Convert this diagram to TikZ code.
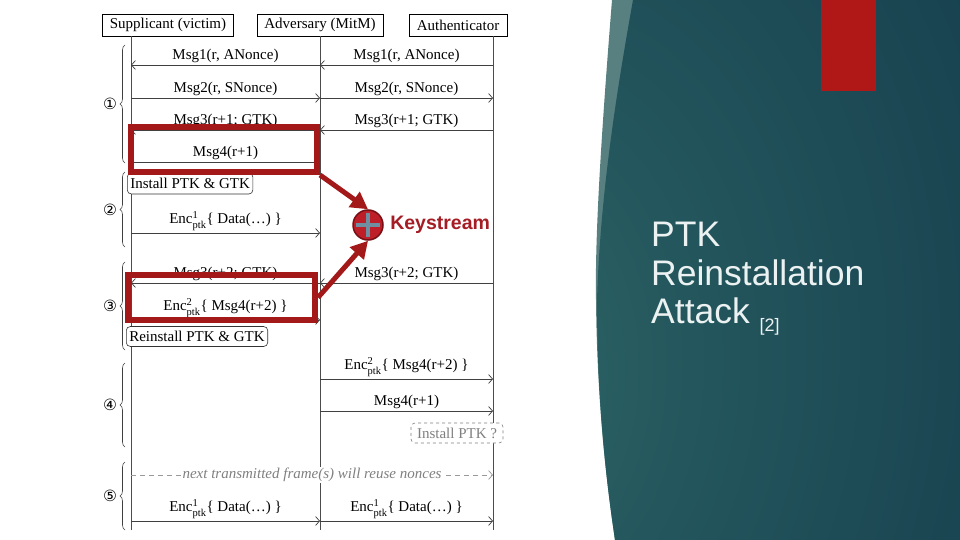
\documentclass[tikz,border=0pt]{standalone}
\usepackage{fontspec}
\usepackage{amsmath}
\setmainfont{Liberation Serif}
\newfontfamily\headfont{Liberation Sans}
\newfontfamily\circfont{DejaVu Sans}
\usetikzlibrary{arrows.meta,positioning,decorations.pathreplacing}

\definecolor{hlred}{RGB}{163,24,24}
\definecolor{ksred}{RGB}{165,28,36}
\definecolor{plusblue}{RGB}{112,142,162}
\definecolor{panelstrip}{RGB}{88,128,128}
\definecolor{slidered}{RGB}{176,24,24}
\definecolor{titlewhite}{RGB}{236,242,242}
\definecolor{glowA}{RGB}{47,104,103}
\definecolor{glowB}{RGB}{35,85,92}
\definecolor{glowC}{RGB}{24,66,80}
\definecolor{glowD}{RGB}{18,54,70}
\definecolor{glowE}{RGB}{16,50,66}
\pgfdeclareradialshading{panelglow}{\pgfpoint{-45bp}{-11bp}}{%
	color(0bp)=(glowA); color(25bp)=(glowB); color(55bp)=(glowC); color(85bp)=(glowD); color(100bp)=(glowE)}

\newcommand{\encptk}[1]{Enc$^{\text{#1}}_{\text{ptk}}$}

\begin{document}
\begin{tikzpicture}[x=1pt, y=-1pt,
	every node/.style={font=\fontsize{15}{18}\selectfont},
	hdr/.style={draw, fill=white, inner xsep=7.5pt, minimum height=22pt},
	life/.style={draw=black!70, line width=0.9pt},
	msg/.style={draw=black!75, line width=0.7pt, -{Straight Barb[length=4pt, width=9pt]}},
	lbl/.style={above=-1pt},
	act/.style={draw=black!80, fill=white, rounded corners=4pt, inner xsep=3pt, inner ysep=0pt, line width=0.6pt},
	brc/.style={draw=black!75, line width=0.6pt, decorate, decoration={brace, amplitude=5pt}},
	hl/.style={draw=hlred, line width=6pt, inner sep=0pt},
	hlarrow/.style={draw=hlred, line width=5pt, -{Triangle[length=17pt, width=18pt]}},
	plus/.style={draw=plusblue, line width=4pt}
]
	\fill[white] (0,0) rectangle (960,540);
	\useasboundingbox (0,0) rectangle (960,540);

	% right panel
	\fill[panelstrip] (612,0) .. controls (600,150) and (595,240) .. (596,300) .. controls (597,400) and (606,480) .. (615,540) -- (960,540) -- (960,0) -- cycle;
	\shade[shading=panelglow] (633,0) .. controls (615,100) and (600,200) .. (597,300) .. controls (597,400) and (606,480) .. (615,540) -- (960,540) -- (960,0) -- cycle;
	\fill[slidered] (821,0) rectangle (876,91);
	\node (title) [anchor=north west, inner sep=0pt, align=left, text=titlewhite, font=\headfont\fontsize{35.5}{38.5}\selectfont] at (651,222) {PTK\\Reinstallation\\Attack {\fontsize{18}{20}\selectfont\raisebox{-8pt}{[2]}}};

	% lifelines
	\foreach \row/\ypos in {m1/65, m2/98, m3/130, m4/162, d1/233, m5/283, e2/320, e3/379, m6/411, nx/475, d2/521, end/530} {
		\coordinate (s-\row) at (131,\ypos);
		\coordinate (a-\row) at (320,\ypos);
		\coordinate (t-\row) at (493,\ypos);
	}
	\node (supp) [hdr] at (168,25) {Supplicant (victim)};
	\node (adv) [hdr] at (320,25) {Adversary (MitM)};
	\node (auth) [hdr] at (458,25) {Authenticator};
	\draw[life] (supp.south -| s-end) -- (s-end);
	\draw[life] (adv.south) -- (a-end);
	\draw[life] (auth.south -| t-end) -- (t-end);

	% messages
	\foreach \from/\to/\msgtext in {%
			t-m1/a-m1/{Msg1(r, ANonce)}, a-m1/s-m1/{Msg1(r, ANonce)},
			s-m2/a-m2/{Msg2(r, SNonce)}, a-m2/t-m2/{Msg2(r, SNonce)},
			t-m3/a-m3/{Msg3(r+1; GTK)}, a-m3/s-m3/{Msg3(r+1; GTK)},
			s-m4/a-m4/{Msg4(r+1)},
			s-d1/a-d1/{\encptk{1}\{ Data(\dots) \}},
			t-m5/a-m5/{Msg3(r+2; GTK)}, a-m5/s-m5/{Msg3(r+2; GTK)},
			s-e2/a-e2/{\encptk{2}\{ Msg4(r+2) \}},
			a-e3/t-e3/{\encptk{2}\{ Msg4(r+2) \}},
			a-m6/t-m6/{Msg4(r+1)},
			s-d2/a-d2/{\encptk{1}\{ Data(\dots) \}}, a-d2/t-d2/{\encptk{1}\{ Data(\dots) \}}%
	}{%
		\draw[msg] (\from) -- (\to) node[midway, lbl] {\msgtext};
	}
	\draw[msg, draw=gray!80, dash pattern=on 5pt off 4pt] (s-nx) -- (t-nx) node[midway, fill=white, inner sep=1pt, text=gray, font=\fontsize{15}{18}\selectfont\itshape] {next transmitted frame(s) will reuse nonces};

	% key installs
	\node (inst) [act, anchor=west, minimum height=21pt] at (127,183.5) {Install PTK \& GTK};
	\node (reinst) [act, anchor=west, minimum height=20pt] at (126,336.5) {Reinstall PTK \& GTK};
	\node (instq) [act, draw=gray, dashed, text=gray, inner xsep=6pt, minimum height=20pt] at (457,433) {Install PTK ?};

	% phases
	\foreach \num/\top/\bot [count=\k] in {①/45/163, ②/172/247, ③/262/350, ④/363/447, ⑤/462/530} {
		\draw[brc] (125,\bot) -- (125,\top);
		\node (phase\k) [inner sep=0pt, font=\circfont\fontsize{15.5}{17}\selectfont] at (110,{(\top+\bot)/2}) {\num};
	}

	% keystream reuse
	\node (hl1) [hl, minimum width=186pt, minimum height=45pt] at (224,149.5) {};
	\node (hl2) [hl, minimum width=187pt, minimum height=45pt] at (221.5,297.5) {};
	\node (ks) [circle, fill={rgb,255:red,190;green,30;blue,40}, draw={rgb,255:red,120;green,15;blue,20}, line width=1.5pt, minimum size=30pt, inner sep=0pt] at (368,225) {};
	\draw[hlarrow] (hl1.south east) -- (ks.north);
	\draw[hlarrow] (hl2.east) -- (ks.south);
	\draw[plus] ([xshift=-12pt]ks.center) -- ([xshift=12pt]ks.center);
	\draw[plus] ([yshift=-12pt]ks.center) -- ([yshift=12pt]ks.center);
	\node (kstext) [right=3pt of ks, text=ksred, font=\headfont\bfseries\fontsize{19.5}{22}\selectfont] {Keystream};
\end{tikzpicture}
\end{document}
